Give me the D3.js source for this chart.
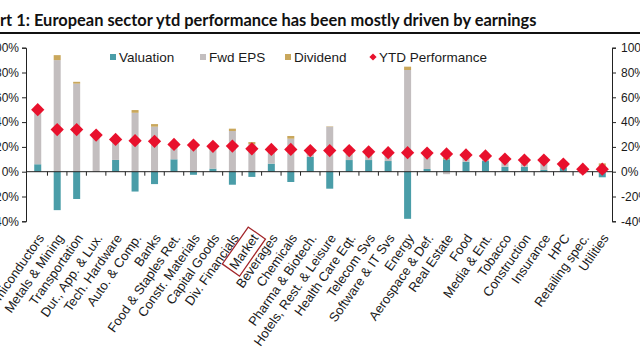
<!DOCTYPE html>
<html><head><meta charset="utf-8">
<script src="https://cdn.jsdelivr.net/npm/d3@7"></script>
<style>html,body{margin:0;padding:0;background:#fff;overflow:hidden}svg{display:block}</style>
</head><body><svg id="c" width="640" height="360"></svg>
<script>
const categories = ["Semiconductors","Metals & Mining","Transportation","Dur., App. & Lux.","Tech. Hardware","Auto. & Comp.","Banks","Food & Staples Ret.","Constr. Materials","Capital Goods","Div. Financials","Market","Beverages","Chemicals","Pharma & Biotech.","Hotels, Rest. & Leisure","Health Care Eqt.","Telecom Svs","Software & IT Svs","Energy","Aerospace & Def.","Real Estate","Food","Media & Ent.","Tobacco","Construction","Insurance","HPC","Retailing spec.","Utilities"];
const valuation = [6,-31,-22,0,9.5,-16,-10,10,-2.5,2.5,-10.5,-4.2,6.5,-8.3,12,-13.7,9.4,9.4,8.6,-38,2.2,10,8,8.6,4,4,1.4,3.5,0.3,-4.5];
const fwdEps = [42,90,71,27,14,47.5,36.3,9,20,15.5,32.8,22.3,10,26.6,3,36.3,4.5,3.5,4.5,82,11,-2,3.5,2.5,4.5,4,6,1.5,-1.5,4.5];
const dividend = [0.5,4,1.5,0.5,0.5,2.2,2.1,1,1,1,1.9,1.6,1,2.2,1,0.3,0.5,1.5,0.5,2.7,0.7,1.5,1,1,2,1.5,1.5,1,1,2.2];
const ytdPerformance = [50,34,34,29.5,26,25,24.5,22,21.5,20.5,20.7,18.5,18,18,17,17,17,16,15.3,15.3,15,14.3,13.5,12.7,10.2,9.4,9.4,6.2,2,2];
const yTicks = [-40,-20,0,20,40,60,80,100];
const seriesNames = ["Valuation","Fwd EPS","Dividend","YTD Performance"];
const highlighted = "Market";
const titleText = "Chart 1: European sector ytd performance has been mostly driven by earnings";

const svg = d3.select("#c");
const colors = {"Valuation":"#4a9da8","Fwd EPS":"#c3bebf","Dividend":"#c9a75c","YTD Performance":"#e8112d"};
const font = "'Liberation Sans', Arial, sans-serif";
const ink = "#1a1a1a";

const x = d3.scaleBand().domain(categories).range([28,612]).paddingInner(0.64).paddingOuter(0.32);
const y = d3.scaleLinear().domain([-40,100]).range([221.3,47.7]);

// stacked bars
const rows = categories.map((c,i)=>({cat:c,"Valuation":valuation[i],"Fwd EPS":fwdEps[i],"Dividend":dividend[i]}));
const stacked = d3.stack().keys(seriesNames.slice(0,3)).offset(d3.stackOffsetDiverging)(rows);
svg.append("g").selectAll("g").data(stacked).join("g").attr("fill",d=>colors[d.key])
  .selectAll("rect").data(d=>d).join("rect")
  .attr("x",d=>x(d.data.cat)).attr("width",x.bandwidth())
  .attr("y",d=>y(Math.max(d[0],d[1]))).attr("height",d=>Math.abs(y(d[0])-y(d[1])));

// zero axis with ticks between categories
const zx = svg.append("g").attr("stroke","#222").attr("stroke-width",1);
zx.append("line").attr("x1",26).attr("x2",612).attr("y1",y(0)).attr("y2",y(0));
zx.selectAll("line.t").data(categories.slice(0,-1)).join("line").attr("class","t")
  .attr("x1",d=>x(d)+x.bandwidth()+(x.step()-x.bandwidth())/2)
  .attr("x2",d=>x(d)+x.bandwidth()+(x.step()-x.bandwidth())/2)
  .attr("y1",y(0)).attr("y2",y(0)+4);

// axes
const fmt = d=>d+"%";
const la = svg.append("g").attr("transform","translate(26,0)")
  .call(d3.axisLeft(y).tickValues(yTicks).tickFormat(fmt).tickSize(4).tickPadding(3));
const ra = svg.append("g").attr("transform","translate(612,0)")
  .call(d3.axisRight(y).tickValues(yTicks).tickFormat(fmt).tickSize(4).tickPadding(5));
[la,ra].forEach(a=>{a.selectAll("path,line").attr("stroke","#222");
  a.selectAll("text").attr("font-family",font).attr("font-size",12).attr("fill",ink);});

// diamonds
const diamond = d3.symbol(d3.symbolSquare,88);
svg.append("g").selectAll("path").data(categories).join("path")
  .attr("d",diamond())
  .attr("transform",(c,i)=>`translate(${x(c)+x.bandwidth()/2},${y(ytdPerformance[i])}) rotate(45)`)
  .attr("fill",colors["YTD Performance"]);

// category labels
const lab = svg.append("g").selectAll("g").data(categories).join("g")
  .attr("transform",c=>`translate(${x(c)+x.bandwidth()/2+7},238) rotate(-55)`);
lab.append("text").attr("text-anchor","end").attr("font-family",font).attr("font-size",13)
  .attr("fill",ink).text(c=>c);
lab.filter(c=>c===highlighted).each(function(){
  const g=d3.select(this); const b=g.select("text").node().getBBox();
  g.insert("rect","text").attr("x",b.x-2.5).attr("y",b.y-3).attr("width",b.width+5).attr("height",b.height+6)
   .attr("fill","none").attr("stroke","#a3262a").attr("stroke-width",1.3);
});

// legend
const legX = [110,200,285,372];
const leg = svg.append("g").selectAll("g").data(seriesNames).join("g")
  .attr("transform",(d,i)=>`translate(${legX[i]},57)`);
leg.filter(d=>d!=="YTD Performance").append("rect").attr("x",0).attr("y",-3).attr("width",6).attr("height",6)
  .attr("fill",d=>colors[d]);
leg.filter(d=>d==="YTD Performance").append("path").attr("d",d3.symbol(d3.symbolSquare,26)())
  .attr("transform","translate(1,0) rotate(45)").attr("fill",colors["YTD Performance"]);
leg.append("text").attr("x",(d,i)=>i===3?7:9).attr("dy","0.36em").attr("font-family",font).attr("font-size",13.5)
  .attr("fill",ink).text(d=>d);

// title
const tf = "Lato, 'Open Sans', sans-serif";
const t = svg.append("text").attr("font-family",tf).attr("font-weight",700).attr("font-size",15).attr("fill","#111").text(titleText);
const pre = svg.append("text").attr("font-family",tf).attr("font-weight",700).attr("font-size",15).text("Cha");
const full = t.node().getComputedTextLength(), pw = pre.node().getComputedTextLength();
pre.remove();
const fs = 15*537/(full-pw);
t.attr("font-size",fs).attr("x",-pw*fs/15).attr("y",26);
svg.append("line").attr("x1",0).attr("x2",640).attr("y1",33).attr("y2",33).attr("stroke","#111").attr("stroke-width",2);
</script></body></html>
